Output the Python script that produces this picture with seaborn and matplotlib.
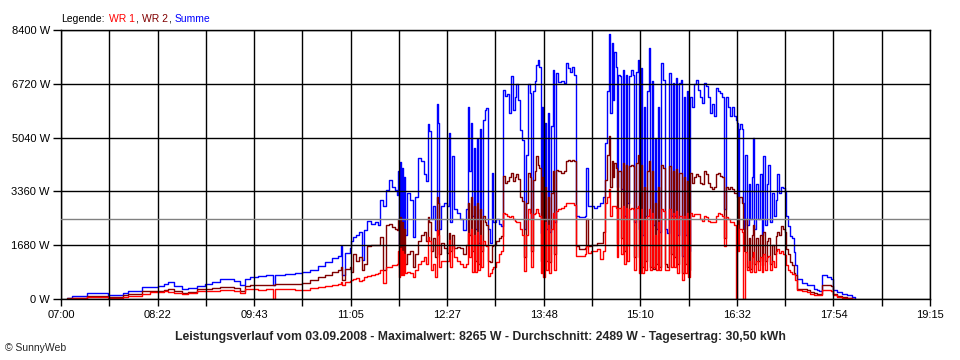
import matplotlib
matplotlib.use("Agg")
import matplotlib.pyplot as plt
from matplotlib.offsetbox import TextArea, HPacker, AnchoredOffsetbox
import seaborn as sns

# Zeit in Minuten nach 07:00
zeit_min = [
    5.1, 9.3, 16.1, 22.0, 28.8, 35.5, 39.8, 45.7, 52.4, 56.7,
    62.6, 68.5, 75.3, 82.0, 87.1, 90.5, 95.6, 102.3, 107.4, 115.0,
    121.8, 127.7, 134.5, 141.2, 146.3, 151.4, 155.6, 159.9, 166.6, 173.4,
    179.3, 181.0, 189.5, 197.9, 203.8, 210.6, 217.4, 223.3, 229.2, 234.3,
    236.8, 237.7, 240.2, 244.4, 245.3, 247.0, 249.5, 252.0, 254.6, 256.3,
    258.8, 262.2, 265.6, 268.1, 269.8, 272.3, 274.9, 277.4, 279.9, 282.5,
    284.2, 285.0, 285.9, 286.7, 287.6, 288.4, 289.3, 290.1, 291.0, 292.6,
    295.2, 297.7, 299.4, 302.0, 304.5, 307.0, 308.7, 310.4, 311.3, 312.9,
    314.6, 316.3, 318.0, 318.9, 319.7, 321.4, 323.9, 326.5, 328.2, 329.0,
    330.7, 332.4, 334.9, 337.5, 340.0, 342.5, 344.2, 345.1, 346.8, 347.6,
    349.3, 350.1, 351.8, 352.7, 354.3, 355.2, 356.9, 358.6, 359.4, 361.1,
    362.8, 364.5, 365.4, 367.9, 370.4, 372.1, 373.8, 375.5, 377.2, 378.9,
    380.6, 382.3, 384.0, 384.8, 386.5, 388.2, 389.9, 391.6, 393.3, 395.0,
    396.7, 397.5, 399.2, 400.9, 401.8, 403.4, 404.3, 406.0, 406.8, 407.7,
    409.4, 410.2, 411.9, 412.8, 414.4, 416.1, 417.0, 418.7, 420.4, 422.9,
    425.4, 427.1, 428.8, 430.5, 432.2, 433.9, 435.6, 438.1, 440.7, 443.2,
    444.0, 445.7, 448.3, 450.8, 453.3, 455.9, 458.4, 460.1, 461.8, 463.5,
    464.3, 466.0, 466.9, 467.7, 469.4, 470.3, 471.1, 472.8, 473.6, 475.3,
    476.2, 477.9, 478.7, 480.4, 482.1, 483.8, 484.6, 486.3, 488.0, 488.9,
    490.6, 491.4, 493.1, 494.0, 495.7, 497.3, 498.2, 499.9, 500.7, 502.4,
    503.3, 505.0, 505.8, 507.5, 509.2, 510.9, 512.6, 514.2, 515.9, 517.6,
    518.5, 520.2, 521.0, 522.7, 524.4, 525.2, 526.9, 527.8, 529.5, 530.3,
    532.0, 533.7, 535.4, 537.1, 538.8, 540.5, 542.2, 543.8, 545.5, 547.2,
    548.9, 550.6, 552.3, 554.0, 555.7, 557.4, 559.1, 560.8, 562.5, 564.2,
    565.8, 567.5, 569.2, 570.9, 571.8, 572.6, 573.5, 574.3, 576.0, 576.8,
    577.7, 578.5, 580.2, 581.9, 582.8, 584.4, 585.3, 586.1, 587.8, 589.5,
    591.2, 592.9, 593.8, 595.4, 597.1, 598.0, 599.7, 601.4, 603.1, 604.8,
    605.6, 607.3, 609.0, 610.7, 612.4, 613.2, 614.9, 616.6, 618.3, 620.0,
    620.8, 622.5, 626.7, 631.0, 633.5, 636.9, 639.4, 641.1, 643.7, 647.9,
    651.3, 653.0, 656.3, 660.6, 664.8, 669.0, 671.6,
]

summe = [
    30, 80, 100, 190, 190, 180, 110, 110, 200, 250,
    260, 370, 380, 420, 480, 520, 420, 310, 340, 400,
    470, 520, 630, 640, 550, 435, 640, 690, 720, 740,
    430, 750, 780, 800, 830, 900, 1030, 1150, 1270, 1350,
    1650, 750, 1450, 1600, 1800, 1950, 2000, 2100, 1220, 2150,
    2450, 2350, 2400, 2300, 3090, 2900, 3400, 3720, 3500, 3400,
    3250, 4000, 1700, 4290, 1630, 4100, 1800, 3800, 2000, 3300,
    3100, 1950, 3200, 4400, 4300, 3900, 3700, 5480, 5250, 2500,
    2900, 2150, 6100, 5500, 2200, 2900, 3000, 2900, 5180, 2400,
    4450, 2800, 2700, 2500, 2150, 2800, 6000, 4000, 5500, 2600,
    4700, 2200, 5000, 1760, 5300, 2500, 5600, 5900, 5960, 2200,
    1760, 3940, 2400, 2490, 2350, 2280, 6530, 6330, 6400, 5800,
    6950, 5900, 6300, 6700, 6200, 5290, 4980, 2180, 4500, 6700,
    6430, 2500, 6500, 6800, 7300, 7460, 7260, 2070, 6000, 2300,
    5500, 2200, 5800, 2100, 5400, 7150, 2400, 7050, 6780, 6800,
    6750, 7363, 7200, 7100, 7250, 7000, 2600, 2550, 2550, 2600,
    4100, 2900, 2900, 2850, 2900, 3000, 3200, 4870, 6500, 8265,
    5800, 7985, 6200, 7700, 7260, 3500, 7000, 6950, 3420, 7150,
    2590, 7000, 3000, 6950, 7150, 7000, 2400, 7100, 7466, 2200,
    7200, 2000, 6000, 2590, 6500, 7830, 2500, 6800, 2300, 5000,
    2200, 6000, 2100, 7360, 6840, 2180, 2070, 7050, 2600, 6740,
    2590, 6900, 2000, 6740, 6840, 1350, 6320, 2000, 6500, 1500,
    6320, 6000, 6700, 6840, 6530, 6320, 6120, 6740, 6640, 6320,
    5800, 6100, 5700, 6580, 6500, 6430, 6320, 2800, 6300, 6000,
    5700, 6000, 5700, 5600, 5500, 3000, 5300, 5450, 5300, 3000,
    2190, 4500, 2300, 3600, 2500, 3800, 5040, 2200, 3600, 2500,
    3900, 2000, 4470, 2300, 3600, 4200, 2400, 3300, 2600, 3100,
    3900, 3300, 3500, 3480, 3330, 2600, 2290, 1980, 1900, 1460,
    1050, 630, 500, 425, 450, 300, 270, 250, 736, 700,
    630, 270, 218, 165, 115, 60, 0,
]

wr2 = [
    20, 30, 40, 100, 100, 90, 70, 70, 120, 145,
    150, 250, 250, 260, 290, 300, 260, 175, 220, 300,
    300, 330, 380, 380, 330, 250, 420, 450, 440, 450,
    450, 460, 470, 480, 500, 580, 680, 760, 830, 900,
    1000, 600, 950, 1000, 850, 1400, 1200, 1300, 900, 1100,
    1650, 1700, 1700, 1700, 1950, 900, 2300, 2350, 2250, 2200,
    2150, 2500, 1000, 2570, 900, 2400, 1000, 2200, 1100, 1400,
    1500, 1000, 1400, 1800, 2000, 2100, 1800, 2570, 2400, 1500,
    1900, 1300, 3200, 3000, 1400, 1750, 1600, 1450, 2050, 1500,
    2000, 1600, 1630, 1600, 1400, 1700, 3000, 2000, 3200, 1500,
    2900, 1200, 3000, 1100, 2800, 1500, 2600, 2400, 2300, 1200,
    1140, 1660, 1700, 1800, 1900, 1970, 3830, 3630, 3700, 3800,
    3940, 3700, 3800, 3900, 3750, 3200, 3050, 1300, 3000, 3940,
    3800, 1500, 3730, 4000, 4460, 4200, 4100, 1200, 3800, 1300,
    3500, 1200, 3200, 1140, 3300, 4000, 1400, 4040, 4000, 3940,
    4000, 4300, 4350, 4300, 4350, 4300, 1660, 1555, 1555, 1600,
    2490, 1660, 1700, 1700, 1760, 1760, 2100, 3730, 4500, 5080,
    3500, 4300, 3800, 4250, 4100, 1760, 4000, 4000, 1900, 4250,
    1500, 4200, 1700, 4150, 4200, 4150, 1300, 4250, 4510, 1300,
    4200, 1000, 3500, 1200, 4000, 4300, 1000, 4000, 930, 3000,
    1100, 3500, 1000, 4200, 4100, 1100, 1000, 4150, 1400, 4000,
    1300, 4050, 1100, 3940, 3940, 800, 3800, 1100, 3700, 900,
    3940, 3630, 3800, 3900, 3840, 3630, 3600, 3990, 3900, 3630,
    3500, 3420, 3500, 3900, 3940, 3840, 3800, 1900, 3500, 3420,
    3500, 3420, 3300, 3300, 3200, 2200, 3200, 3170, 3000, 2200,
    1500, 2500, 1000, 1900, 940, 2000, 2300, 1100, 1900, 1200,
    2000, 1050, 2100, 1200, 1800, 1900, 1100, 1700, 1400, 1980,
    2100, 2000, 2290, 2200, 2100, 1570, 1400, 1150, 1050, 800,
    740, 320, 300, 270, 220, 200, 165, 165, 445, 445,
    420, 165, 100, 60, 30, 10, 0,
]

wr1 = [
    10, 20, 25, 70, 70, 60, 20, 20, 60, 100,
    100, 150, 230, 230, 240, 230, 200, 155, 190, 240,
    240, 250, 290, 290, 250, 200, 300, 300, 290, 300,
    0, 300, 300, 290, 290, 330, 380, 420, 440, 480,
    520, 450, 520, 560, 600, 620, 650, 560, 600, 700,
    720, 750, 780, 800, 900, 490, 1000, 1000, 1050, 1050,
    1100, 1500, 700, 1600, 750, 1500, 750, 1400, 800, 850,
    800, 700, 900, 1100, 1200, 1300, 1100, 1950, 1800, 900,
    1100, 700, 2150, 2000, 1000, 1200, 1200, 1200, 1840, 1000,
    1700, 1300, 1200, 1100, 1000, 1100, 2050, 1300, 2180, 850,
    2000, 830, 2100, 900, 2000, 1000, 1800, 1700, 1660, 726,
    800, 933, 1000, 1140, 1400, 1500, 2700, 2650, 2600, 2550,
    2590, 2500, 2450, 2400, 2400, 2180, 2000, 880, 2000, 2800,
    2700, 1000, 2650, 2700, 2800, 2700, 2600, 800, 2500, 700,
    2400, 900, 2300, 800, 2200, 2700, 900, 2750, 2800, 2850,
    2900, 3000, 3000, 3000, 3000, 2950, 1350, 1350, 1350, 1400,
    1660, 1450, 1500, 1500, 1555, 1240, 1500, 3000, 3200, 3420,
    2600, 2900, 2900, 2900, 2850, 1300, 2850, 2850, 1400, 2900,
    1100, 2850, 1200, 2800, 2850, 2800, 900, 2850, 2900, 800,
    2800, 800, 2500, 900, 2600, 2800, 900, 2700, 1000, 2000,
    900, 2400, 900, 2800, 2750, 900, 900, 2800, 1000, 2700,
    1000, 2750, 800, 2600, 2600, 600, 2600, 800, 2700, 700,
    2700, 2600, 2650, 2650, 2650, 2500, 2450, 2600, 2550, 2450,
    2400, 2390, 2390, 2600, 2700, 2650, 2600, 1660, 2550, 2500,
    2400, 2400, 2300, 0, 2300, 1500, 2190, 2190, 2100, 0,
    0, 1460, 900, 1200, 840, 1300, 1460, 850, 1200, 900,
    1300, 850, 1400, 900, 1300, 1350, 900, 1200, 1000, 1500,
    1570, 1450, 1500, 1400, 1360, 1050, 900, 840, 790, 790,
    600, 270, 250, 218, 165, 140, 115, 115, 270, 270,
    260, 115, 60, 40, 20, 10, 0,
]

durchschnitt = 2489
y_werte = [0, 1680, 3360, 5040, 6720, 8400]
x_beschriftung = ["07:00", "08:22", "09:43", "11:05", "12:27",
                  "13:48", "15:10", "16:32", "17:54", "19:15"]
titel = ("Leistungsverlauf vom 03.09.2008 - Maximalwert: 8265 W - "
         "Durchschnitt: 2489 W - Tagesertrag: 30,50 kWh")

sns.set_style("white")
plt.rcParams["font.family"] = ["Liberation Sans", "DejaVu Sans"]

fig = plt.figure(figsize=(9.6, 3.6), dpi=100)
ax = fig.add_axes([61 / 960, 61 / 360, 869 / 960, 269 / 360])

for werte, farbe in ((summe, "#0000ff"), (wr2, "#800000"), (wr1, "#ff0000")):
    sns.lineplot(x=zeit_min, y=werte, color=farbe, linewidth=1.0,
                 drawstyle="steps-post", estimator=None, legend=False, ax=ax)

ax.axhline(durchschnitt, color="#808080", lw=1.0, zorder=3)

spanne = 735  # 07:00 bis 19:15
ax.set_xlim(0, spanne)
ax.set_ylim(0, 8400)
pos = [i * spanne / 18 for i in range(19)]
labs = [x_beschriftung[i // 2] if i % 2 == 0 else "" for i in range(19)]
ax.set_xticks(pos, labs)
ax.set_yticks(y_werte, [f"{v} W" for v in y_werte])
ax.grid(True, color="black", lw=1.0)
ax.set_axisbelow(False)
ax.tick_params(axis="x", bottom=True, direction="out", length=5, width=1,
               pad=3, labelsize=8, colors="black")
ax.tick_params(axis="y", left=True, direction="out", length=6, width=1,
               pad=2, labelsize=8, colors="black")
for s in ax.spines.values():
    s.set_color("black")
    s.set_linewidth(1.0)
ax.set_xlabel("")
ax.set_ylabel("")

# Legende oben links
def stueck(txt, farbe):
    return TextArea(txt, textprops=dict(color=farbe, fontsize=7.5))

teile = HPacker(children=[
    stueck("Legende:", "black"),
    HPacker(children=[stueck("WR 1", "#ff0000"), stueck(",", "black")], sep=0, pad=0),
    HPacker(children=[stueck("WR 2", "#800000"), stueck(",", "black")], sep=0, pad=0),
    stueck("Summe", "#0000ff"),
], sep=3, pad=0, align="baseline")
box = AnchoredOffsetbox(loc="lower left", child=teile, pad=0, borderpad=0,
                        frameon=False, bbox_to_anchor=(61 / 960, 1 - 24 / 360),
                        bbox_transform=fig.transFigure)
fig.add_artist(box)

fig.text(480 / 960, 1 - 337 / 360, titel, ha="center", va="center",
         fontsize=8.8, fontweight="bold")
fig.text(5 / 960, 1 - 348 / 360, "© SunnyWeb", ha="left", va="center",
         fontsize=7.5)

fig.savefig("out.png", dpi=100)
